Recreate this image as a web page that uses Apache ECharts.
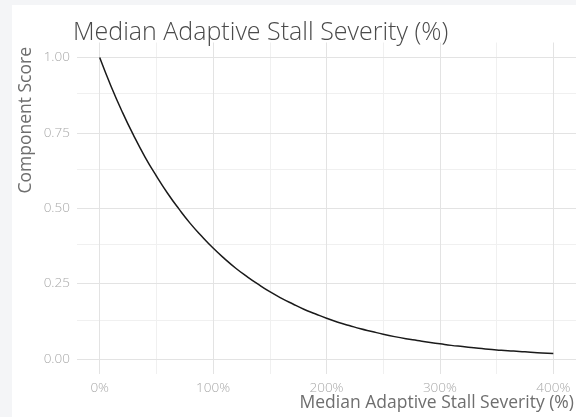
<!DOCTYPE html>
<html>
<head>
<meta charset="utf-8">
<script src="https://cdn.jsdelivr.net/npm/echarts@6/dist/echarts.min.js"></script>
<style>
  html, body { margin: 0; padding: 0; background: #f4f5f7; }
  #chart { position: absolute; left: 12px; top: 5px; width: 564px; height: 412px; background: #fff; }
</style>
</head>
<body>
<div id="chart"></div>
<script>
// severity (%) and component score
const severity = [0, 10, 20, 30, 40, 50, 60, 70, 80, 90, 100, 110, 120, 130, 140, 150, 160, 170, 180, 190, 200,
  210, 220, 230, 240, 250, 260, 270, 280, 290, 300, 310, 320, 330, 340, 350, 360, 370, 380, 390, 400]
const score = [1.00, 0.905, 0.819, 0.741, 0.670, 0.607, 0.549, 0.497, 0.449, 0.407, 0.368, 0.333, 0.301, 0.273,
  0.247, 0.223, 0.202, 0.183, 0.165, 0.150, 0.135, 0.122, 0.111, 0.100, 0.091, 0.082, 0.074, 0.067, 0.061,
  0.055, 0.050, 0.045, 0.041, 0.037, 0.033, 0.030, 0.027, 0.025, 0.022, 0.020, 0.018]

const xTicks = [0, 100, 200, 300, 400]
const xMinor = [50, 150, 250, 350]
const yTicks = [0, 0.25, 0.5, 0.75, 1]
const yMinor = [0.125, 0.375, 0.625, 0.875]

const titleText = 'Median Adaptive Stall Severity (%)'
const xName = 'Median Adaptive Stall Severity (%)'
const yName = 'Component Score'

const font = 'Open Sans'
const chart = echarts.init(document.getElementById('chart'))

function gridLines(vals, key, color) {
  return vals.map(function(v) {
    const o = { lineStyle: { color: color, width: 1, type: 'solid' } }
    o[key] = v
    return o
  })
}

chart.setOption({
  animation: false,
  title: {
    text: titleText,
    left: 56,
    top: 10,
    textStyle: { fontFamily: font, fontWeight: 300, fontSize: 25, color: '#4a4a4a' }
  },
  grid: { left: 65, top: 37.5, width: 503, height: 331.5 },
  xAxis: {
    type: 'value',
    min: -20,
    max: 420,
    splitLine: { show: false },
    axisLine: { show: false },
    axisTick: { show: false },
    axisLabel: {
      customValues: xTicks,
      margin: 7,
      fontFamily: font,
      fontWeight: 300,
      fontSize: 13.5,
      color: '#a8a8a8',
      formatter: function(v) { return v + '%' }
    }
  },
  yAxis: {
    type: 'value',
    min: -0.05,
    max: 1.05,
    splitLine: { show: false },
    axisLine: { show: false },
    axisTick: { show: false },
    axisLabel: {
      customValues: yTicks,
      margin: 7,
      fontFamily: font,
      fontWeight: 300,
      fontSize: 13.5,
      color: '#a8a8a8',
      formatter: function(v) { return v.toFixed(2) }
    }
  },
  graphic: [
    {
      type: 'text',
      x: 562,
      y: 398,
      style: { text: xName, font: '17.5px ' + font, fill: '#6e6e6e', align: 'right', verticalAlign: 'middle' }
    },
    {
      type: 'text',
      x: 14,
      y: 42,
      rotation: Math.PI / 2,
      style: { text: yName, font: '17.5px ' + font, fill: '#6e6e6e', align: 'right', verticalAlign: 'middle' }
    }
  ],
  series: [
    {
      type: 'line',
      data: severity.map(function(x, i) { return [x, score[i]] }),
      smooth: true,
      showSymbol: false,
      lineStyle: { color: '#1a1a1a', width: 1.5 },
      z: 3,
      markLine: {
        silent: true,
        symbol: 'none',
        z: 1,
        label: { show: false },
        data: [].concat(
          gridLines(xMinor, 'xAxis', '#f0f0f0'),
          gridLines(yMinor, 'yAxis', '#f0f0f0'),
          gridLines(xTicks, 'xAxis', '#e3e3e3'),
          gridLines(yTicks, 'yAxis', '#e3e3e3')
        )
      }
    }
  ]
})
</script>
</body>
</html>
